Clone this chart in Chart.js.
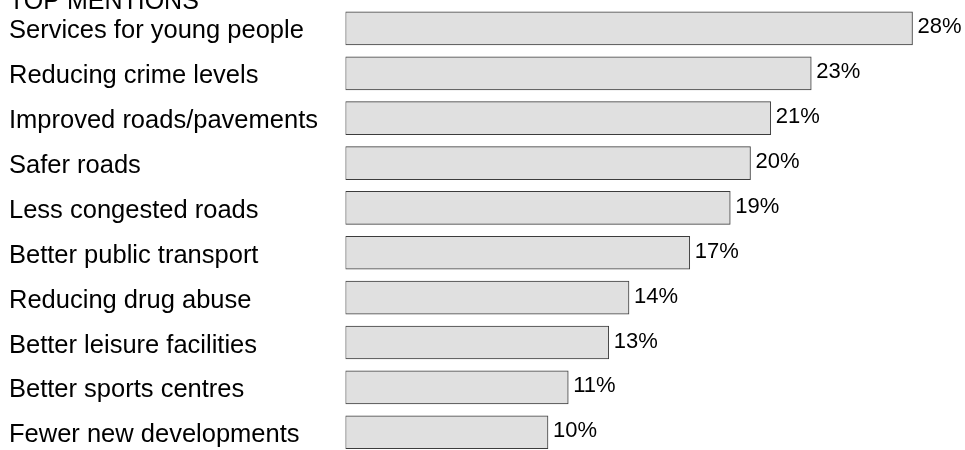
<!DOCTYPE html>
<html>
<head>
<meta charset="utf-8">
<script src="https://cdn.jsdelivr.net/npm/chart.js@4/dist/chart.umd.min.js"></script>
<style>
  html, body { margin: 0; padding: 0; background: #ffffff; overflow: hidden; width: 965px; height: 450px; }
  #wrap { position: absolute; left: 0; top: -20px; width: 965px; height: 490px; }
</style>
</head>
<body>
<div id="wrap"><canvas id="c" width="965" height="490"></canvas></div>
<script>
const titleText = "TOP MENTIONS";
const categories = [
  "Services for young people",
  "Reducing crime levels",
  "Improved roads/pavements",
  "Safer roads",
  "Less congested roads",
  "Better public transport",
  "Reducing drug abuse",
  "Better leisure facilities",
  "Better sports centres",
  "Fewer new developments"
];
const values = [28, 23, 21, 20, 19, 17, 14, 13, 11, 10];
const valueSuffix = "%";

const FONT = "'Liberation Sans', Arial, Helvetica, sans-serif";

const valueLabels = {
  id: 'valueLabels',
  afterDatasetsDraw(chart) {
    const ctx = chart.ctx;
    const meta = chart.getDatasetMeta(0);
    ctx.save();
    ctx.font = "22px " + FONT;
    ctx.fillStyle = "#000000";
    ctx.textAlign = "left";
    ctx.textBaseline = "middle";
    meta.data.forEach((bar, i) => {
      ctx.fillText(values[i] + valueSuffix, bar.x + 5, bar.y - 1);
    });
    ctx.restore();
  }
};

new Chart(document.getElementById('c'), {
  type: 'bar',
  data: {
    labels: categories,
    datasets: [{
      data: values,
      backgroundColor: '#e0e0e0',
      borderColor: '#3c3c3c',
      borderWidth: 1,
      borderSkipped: false,
      barThickness: 33
    }]
  },
  options: {
    indexAxis: 'y',
    responsive: false,
    animation: false,
    devicePixelRatio: 1,
    layout: { padding: { left: 9, right: 12, top: 18, bottom: 0 } },
    plugins: {
      legend: { display: false },
      tooltip: { enabled: false },
      title: {
        display: true,
        text: titleText,
        align: 'start',
        color: '#000000',
        font: { family: FONT, size: 25, weight: 'normal', lineHeight: 0.32 },
        padding: 0
      }
    },
    scales: {
      x: {
        display: false,
        min: 0,
        max: 30
      },
      y: {
        grid: { display: false },
        border: { display: false },
        ticks: {
          crossAlign: 'far',
          color: '#000000',
          font: { family: FONT, size: 25.5 },
          padding: 0,
          labelOffset: 3
        },
        afterFit(scale) { scale.width = 336.5; }
      }
    }
  },
  plugins: [valueLabels]
});
</script>
</body>
</html>
